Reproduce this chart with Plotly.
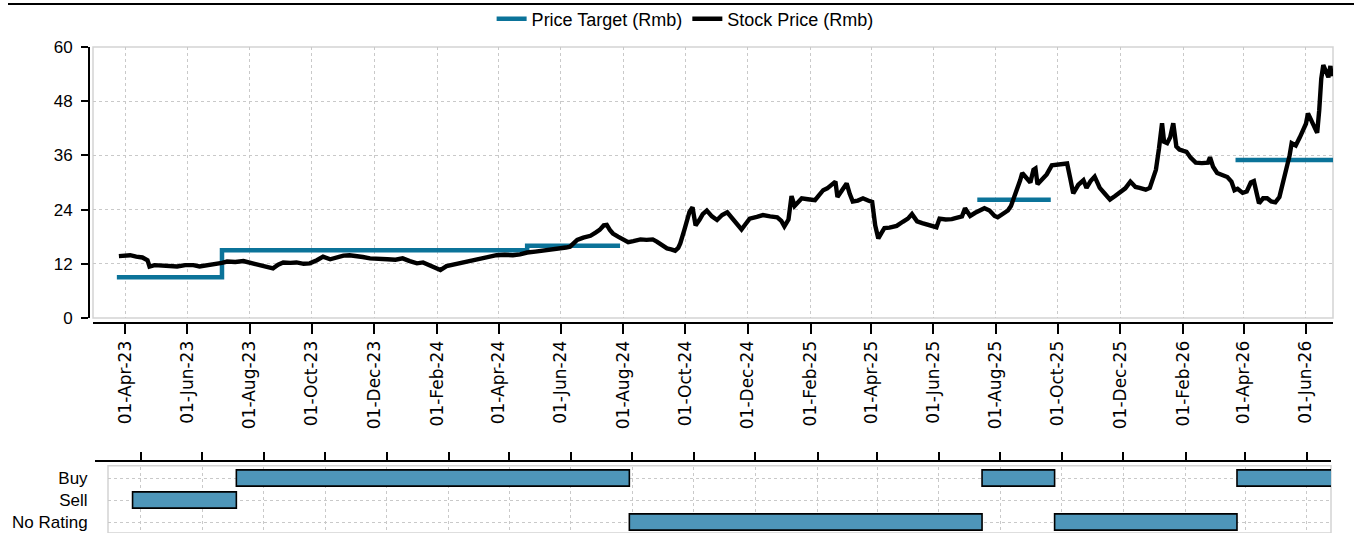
import plotly.graph_objects as go
import pandas as pd

W, H = 1354, 533

# ---------------- data ----------------
stock_dates = [
    "2023-03-26", "2023-03-31", "2023-04-06", "2023-04-12", "2023-04-18", "2023-04-23", "2023-04-25", "2023-04-30",
    "2023-05-05", "2023-05-13", "2023-05-22", "2023-05-30", "2023-06-07", "2023-06-13", "2023-06-20", "2023-06-25",
    "2023-06-30", "2023-07-05", "2023-07-10", "2023-07-18", "2023-07-26", "2023-08-01", "2023-08-08", "2023-08-16",
    "2023-08-24", "2023-08-29", "2023-09-03", "2023-09-10", "2023-09-16", "2023-09-23", "2023-09-29", "2023-10-06",
    "2023-10-12", "2023-10-19", "2023-10-26", "2023-11-01", "2023-11-07", "2023-11-14", "2023-11-20", "2023-11-27",
    "2023-12-05", "2023-12-14", "2023-12-22", "2023-12-29", "2024-01-05", "2024-01-12", "2024-01-18", "2024-01-25",
    "2024-01-31", "2024-02-04", "2024-02-10", "2024-02-18", "2024-02-26", "2024-03-05", "2024-03-14", "2024-03-22",
    "2024-03-30", "2024-04-07", "2024-04-15", "2024-04-22", "2024-04-29", "2024-05-07", "2024-05-15", "2024-05-22",
    "2024-05-31", "2024-06-06", "2024-06-10", "2024-06-14", "2024-06-17", "2024-06-23", "2024-06-30", "2024-07-05",
    "2024-07-09", "2024-07-13", "2024-07-16", "2024-07-19", "2024-07-22", "2024-07-27", "2024-08-01", "2024-08-06",
    "2024-08-11", "2024-08-18", "2024-08-24", "2024-08-30", "2024-09-03", "2024-09-08", "2024-09-13", "2024-09-17",
    "2024-09-21", "2024-09-24", "2024-09-26", "2024-09-30", "2024-10-03", "2024-10-05", "2024-10-08", "2024-10-11",
    "2024-10-15", "2024-10-18", "2024-10-22", "2024-10-27", "2024-11-01", "2024-11-06", "2024-11-11", "2024-11-15",
    "2024-11-19", "2024-11-22", "2024-11-25", "2024-11-29", "2024-12-03", "2024-12-10", "2024-12-16", "2024-12-23",
    "2024-12-30", "2025-01-03", "2025-01-06", "2025-01-10", "2025-01-11", "2025-01-13", "2025-01-16", "2025-01-19",
    "2025-01-23", "2025-01-29", "2025-02-05", "2025-02-09", "2025-02-13", "2025-02-17", "2025-02-21", "2025-02-25",
    "2025-02-27", "2025-03-03", "2025-03-08", "2025-03-11", "2025-03-14", "2025-03-19", "2025-03-24", "2025-03-29",
    "2025-04-02", "2025-04-05", "2025-04-08", "2025-04-11", "2025-04-14", "2025-04-19", "2025-04-26", "2025-05-02",
    "2025-05-07", "2025-05-11", "2025-05-16", "2025-05-21", "2025-05-26", "2025-06-01", "2025-06-04", "2025-06-07",
    "2025-06-13", "2025-06-19", "2025-06-24", "2025-06-29", "2025-07-02", "2025-07-07", "2025-07-12", "2025-07-17",
    "2025-07-21", "2025-07-26", "2025-07-31", "2025-08-03", "2025-08-08", "2025-08-13", "2025-08-16", "2025-08-19",
    "2025-08-22", "2025-08-25", "2025-08-27", "2025-08-31", "2025-09-04", "2025-09-07", "2025-09-09", "2025-09-11",
    "2025-09-15", "2025-09-20", "2025-09-25", "2025-10-01", "2025-10-06", "2025-10-10", "2025-10-13", "2025-10-16",
    "2025-10-21", "2025-10-26", "2025-10-29", "2025-11-02", "2025-11-06", "2025-11-11", "2025-11-16", "2025-11-21",
    "2025-11-26", "2025-12-01", "2025-12-06", "2025-12-11", "2025-12-16", "2025-12-20", "2025-12-26", "2025-12-30",
    "2026-01-02", "2026-01-05", "2026-01-08", "2026-01-11", "2026-01-13", "2026-01-16", "2026-01-19", "2026-01-22",
    "2026-01-25", "2026-01-28", "2026-02-01", "2026-02-04", "2026-02-08", "2026-02-13", "2026-02-19", "2026-02-25",
    "2026-02-27", "2026-03-02", "2026-03-06", "2026-03-11", "2026-03-16", "2026-03-20", "2026-03-23", "2026-03-26",
    "2026-03-31", "2026-04-04", "2026-04-08", "2026-04-11", "2026-04-14", "2026-04-16", "2026-04-20", "2026-04-24",
    "2026-04-28", "2026-05-02", "2026-05-06", "2026-05-09", "2026-05-13", "2026-05-16", "2026-05-18", "2026-05-22",
    "2026-05-26", "2026-05-29", "2026-06-01", "2026-06-03", "2026-06-06", "2026-06-09", "2026-06-12", "2026-06-14",
    "2026-06-16", "2026-06-18", "2026-06-21", "2026-06-23", "2026-06-25", "2026-06-26",
]
stock_values = [
    13.7, 13.9, 13.9, 13.6, 13.4, 12.8, 11.4, 11.7,
    11.6, 11.5, 11.4, 11.7, 11.7, 11.4, 11.6, 11.9,
    11.9, 12.2, 12.5, 12.4, 12.6, 12.3, 11.9, 11.5,
    11.0, 11.8, 12.3, 12.2, 12.3, 12.0, 12.1, 12.8,
    13.6, 13.0, 13.5, 13.8, 13.9, 13.8, 13.5, 13.2,
    13.0, 13.0, 12.9, 13.2, 12.6, 12.1, 12.3, 11.7,
    11.0, 10.6, 11.5, 11.9, 12.1, 12.6, 13.2, 13.5,
    13.9, 14.0, 13.9, 14.1, 14.5, 14.7, 14.9, 15.1,
    15.4, 15.6, 15.8, 16.8, 17.3, 17.8, 18.2, 18.9,
    19.5, 20.5, 20.6, 19.5, 18.7, 18.0, 17.4, 16.8,
    17.0, 17.4, 17.3, 17.4, 16.9, 16.2, 15.4, 15.2,
    14.9, 15.5, 16.5, 19.5, 22.0, 23.5, 24.5, 20.5,
    21.8, 23.0, 23.8, 22.5, 21.7, 22.8, 23.4, 22.2,
    21.2, 20.3, 19.6, 20.8, 22.0, 22.4, 22.8, 22.5,
    22.3, 21.5, 20.3, 21.8, 23.9, 27.0, 24.8, 25.5,
    26.5, 26.3, 26.1, 27.2, 28.3, 28.7, 29.5, 30.2,
    26.8, 28.0, 29.8, 27.5, 25.8, 26.0, 26.5, 26.0,
    25.7, 20.5, 17.6, 18.8, 19.9, 20.0, 20.4, 21.3,
    22.0, 23.0, 21.4, 21.0, 20.6, 20.2, 20.1, 22.0,
    21.8, 21.9, 22.1, 22.5, 24.3, 22.6, 23.3, 23.8,
    24.3, 23.8, 22.6, 22.3, 23.0, 23.8, 24.8, 26.5,
    28.5, 30.5, 32.1, 31.0, 30.0, 32.8, 33.1, 29.6,
    30.5, 31.8, 33.8, 33.9, 34.0, 34.2, 31.0, 27.6,
    29.5, 30.5, 28.8, 30.3, 31.3, 28.8, 27.5, 26.2,
    27.0, 28.0, 28.7, 30.2, 29.0, 28.8, 28.4, 28.8,
    30.5, 32.8, 37.5, 43.1, 39.0, 38.7, 40.0, 43.1,
    38.0, 37.3, 37.0, 36.8, 35.5, 34.4, 34.3, 34.4,
    35.6, 33.5, 32.1, 31.7, 31.2, 30.2, 28.3, 28.6,
    27.7, 28.0, 30.0, 30.3, 27.0, 25.4, 26.5, 26.5,
    25.8, 25.6, 26.8, 29.5, 32.5, 36.0, 38.7, 38.2,
    40.0, 41.5, 43.0, 45.3, 44.0, 42.5, 41.0, 46.0,
    53.0, 56.0, 54.0, 53.3, 55.8, 53.5,
]

pt_dates = ["2023-03-24", "2023-07-05", "2024-04-29", "2024-07-29", None,
            "2025-07-14", "2025-09-24", None, "2026-03-24", "2026-06-30"]
pt_values = [9.0, 15.0, 16.0, 16.0, None, 26.2, 26.2, None, 35.0, 35.0]

rating_categories = ["No Rating", "Sell", "Buy"]
rating_labels = ["Sell", "Buy", "No Rating", "Buy", "No Rating", "Buy"]
rating_start = ["2023-03-24", "2023-07-05", "2024-07-29", "2025-07-14", "2025-09-24", "2026-03-24"]
rating_end = ["2023-07-05", "2024-07-29", "2025-07-14", "2025-09-24", "2026-03-24", "2026-07-10"]

y_ticks = [0, 12, 24, 36, 48, 60]

# ---------------- styles ----------------
PT_COLOR = "#0b7399"
BAR_COLOR = "#4e96b9"
GRID = "#c9c9c9"
ARIAL = "Liberation Sans, Arial, sans-serif"
DEJAVU = "DejaVu Sans, sans-serif"

def fx(px):
    return px / W

def fy(py):
    return 1 - py / H

durations = [(pd.Timestamp(e) - pd.Timestamp(s)).total_seconds() * 1000
             for s, e in zip(rating_start, rating_end)]

fig = go.Figure()
fig.add_trace(go.Scatter(
    x=pt_dates, y=pt_values, mode="lines", name="Price Target (Rmb)",
    line=dict(color=PT_COLOR, width=4.5, shape="hv"), connectgaps=False,
    xaxis="x", yaxis="y"))
fig.add_trace(go.Scatter(
    x=stock_dates, y=stock_values, mode="lines", name="Stock Price (Rmb)",
    line=dict(color="black", width=4.4), xaxis="x", yaxis="y"))
fig.add_trace(go.Bar(
    y=rating_labels, x=durations, base=rating_start, orientation="h",
    marker=dict(color=BAR_COLOR, line=dict(color="black", width=1.6)),
    width=0.74, showlegend=False, xaxis="x2", yaxis="y2"))

common_x = dict(
    type="date", tick0="2023-04-01", dtick="M2",
    showline=True, linecolor="black", linewidth=2,
    ticks="outside", tickcolor="black", tickwidth=2,
    showgrid=True, gridcolor=GRID, gridwidth=1, griddash="3px,3px",
    zeroline=False, anchor="free",
)

fig.update_layout(
    template="none",
    width=W, height=H, autosize=False,
    margin=dict(l=0, r=0, t=0, b=0, pad=0),
    paper_bgcolor="white", plot_bgcolor="white",
    font=dict(family=ARIAL, size=17, color="black"),
    showlegend=True,
    legend=dict(orientation="h", x=0.506, y=fy(19), xanchor="center", yanchor="middle",
                font=dict(family=ARIAL, size=18, color="black"),
                bgcolor="rgba(0,0,0,0)", itemwidth=30, tracegroupgap=0),
    xaxis=dict(common_x, domain=[fx(93), fx(1333)],
               range=["2023-02-28 15:00", "2026-06-27 12:00"],
               position=fy(323), ticklen=10, tickformat="%d-%b-%y", tickangle=-90,
               tickfont=dict(family=DEJAVU, size=17, color="black")),
    yaxis=dict(domain=[fy(318), fy(47)], range=[0, 60], tickvals=y_ticks,
               anchor="free", position=fx(89),
               showline=True, linecolor="black", linewidth=2,
               ticks="outside", ticklen=7, tickwidth=2, tickcolor="black",
               ticklabelstandoff=5,
               tickfont=dict(family=ARIAL, size=17, color="black"),
               showgrid=True, gridcolor=GRID, gridwidth=1, griddash="3px,3px",
               zeroline=False),
    xaxis2=dict(common_x, domain=[fx(108), fx(1331)],
                range=["2023-02-27 15:00", "2026-06-25 07:00"],
                position=fy(461), side="top", ticklen=8, showticklabels=False),
    yaxis2=dict(domain=[0, fy(467)], range=[-0.5, 2.5], type="category",
                categoryorder="array", categoryarray=rating_categories,
                anchor="free", position=fx(108), showline=False,
                ticks="outside", ticklen=17, tickcolor="rgba(0,0,0,0)",
                tickfont=dict(family=ARIAL, size=17, color="black"),
                showgrid=True, gridcolor=GRID, gridwidth=1, griddash="3px,3px",
                zeroline=False),
    bargap=0.2,
    shapes=[
        dict(type="line", xref="paper", yref="paper", x0=fx(8), x1=1, y0=fy(4), y1=fy(4),
             line=dict(color="black", width=2.2)),
        dict(type="rect", xref="x domain", yref="y domain", x0=0, x1=1, y0=0, y1=1,
             line=dict(color="#d3d3d3", width=1.5), layer="below"),
        dict(type="rect", xref="x2 domain", yref="y2 domain", x0=0, x1=1, y0=0, y1=1.02,
             line=dict(color="#d3d3d3", width=1.5), layer="below"),
        dict(type="line", xref="paper", yref="paper", x0=fx(95), x1=fx(109), y0=fy(461), y1=fy(461),
             line=dict(color="black", width=2)),
    ],
)

fig.write_html("out.html",
               config={"displayModeBar": False},
               post_script="document.body.style.margin='0';document.body.style.padding='0';document.body.style.overflow='hidden';")
